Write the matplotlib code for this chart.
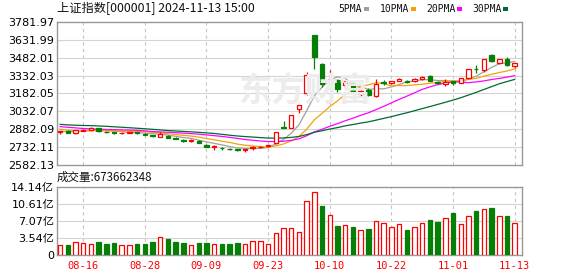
import numpy as np
import pandas as pd
import matplotlib
matplotlib.use("Agg")
import matplotlib.pyplot as plt
from matplotlib.patches import Rectangle

# 上证指数 daily k-line, 2024-08-13 .. 2024-11-13
dates = ["08-13", "08-14", "08-15", "08-16", "08-19", "08-20", "08-21", "08-22", "08-23", "08-26",
         "08-27", "08-28", "08-29", "08-30", "09-02", "09-03", "09-04", "09-05", "09-06", "09-09",
         "09-10", "09-11", "09-12", "09-13", "09-18", "09-19", "09-20", "09-23", "09-24", "09-25",
         "09-26", "09-27", "09-30", "10-08", "10-09", "10-10", "10-11", "10-14", "10-15", "10-16",
         "10-17", "10-18", "10-21", "10-22", "10-23", "10-24", "10-25", "10-28", "10-29", "10-30",
         "10-31", "11-01", "11-04", "11-05", "11-06", "11-07", "11-08", "11-11", "11-12", "11-13"]

opens = [2858, 2866, 2848, 2868, 2879, 2893, 2862, 2858, 2848, 2850,
         2855, 2845, 2837, 2820, 2822, 2806, 2790, 2783, 2781, 2752,
         2733, 2727, 2720, 2713, 2710, 2726, 2734, 2739, 2770.75, 2901.42,
         2893.17, 3049.01, 3190, 3674.40, 3433.17, 3280, 3299.40, 3250, 3265, 3180,
         3208, 3162, 3275, 3268, 3290, 3286, 3290, 3300, 3325, 3278,
         3262, 3283, 3272, 3312, 3388, 3380, 3505, 3437, 3475, 3414]
highs = [2869, 2872, 2879, 2888, 2900, 2895, 2867, 2860, 2860, 2862,
         2858, 2847, 2838, 2857, 2830, 2813, 2800, 2797, 2790, 2755,
         2746, 2735, 2728, 2720, 2720, 2744, 2740, 2753, 2863.13, 2952.45,
         3000.95, 3087.53, 3358.59, 3674.40, 3440, 3382, 3306, 3290, 3282, 3220,
         3226, 3300, 3299, 3290, 3311, 3295, 3311, 3325, 3336, 3286,
         3301, 3290, 3310, 3390, 3425, 3474, 3509.7, 3475, 3490, 3440]
lows = [2846, 2849, 2840, 2866, 2873, 2863, 2848, 2844, 2843, 2849,
        2842, 2831, 2817, 2815, 2807, 2797, 2775, 2776, 2765, 2733,
        2712, 2711, 2711, 2699, 2689.70, 2705, 2726, 2734, 2759.08, 2889.05,
        2889.67, 3017.05, 3166, 3385, 3237.29, 3230, 3194, 3230, 3195, 3153,
        3165, 3152, 3255, 3262, 3284, 3273, 3280, 3295, 3284, 3262,
        3249, 3250, 3266, 3305, 3357, 3366, 3446, 3428, 3416, 3400]
closes = [2867.95, 2850.65, 2877.36, 2879.43, 2893.67, 2866.66, 2856.58, 2848.77, 2854.37, 2855.52,
          2848.32, 2837.43, 2823.11, 2842.21, 2811.04, 2802.98, 2784.28, 2788.31, 2765.81, 2736.49,
          2744.19, 2721.80, 2717.12, 2704.09, 2717.28, 2736.02, 2736.81, 2748.92, 2863.13, 2896.31,
          3000.95, 3087.53, 3336.50, 3489.78, 3258.86, 3301.93, 3217.74, 3284.32, 3201.29, 3202.95,
          3169.38, 3261.56, 3268.11, 3285.87, 3302.80, 3280.26, 3299.70, 3322.20, 3286.41, 3266.24,
          3279.82, 3272.01, 3310.21, 3386.99, 3383.81, 3470.66, 3452.30, 3470.07, 3421.97, 3439.28]

# closes before the window, needed for the moving averages
prior_closes = [2994.73, 2997.01, 2982.38, 2957.57, 2949.93, 2922.45, 2959.37, 2939.36, 2970.39, 2971.30,
                2974.01, 2976.30, 2962.77, 2977.13, 2982.31, 2964.22, 2915.37, 2901.95, 2886.43, 2890.90,
                2891.85, 2879.30, 2938.75, 2932.39, 2905.34, 2860.70, 2867.28, 2869.90, 2870.22, 2862.19,
                2858.20]

# volume, 亿
volumes = [2.15, 2.00, 2.63, 2.56, 2.36, 2.63, 2.22, 2.43, 2.15, 2.15,
           2.22, 2.22, 2.63, 3.74, 3.26, 2.63, 2.43, 2.15, 2.43, 2.43,
           2.36, 2.22, 2.22, 2.43, 2.36, 2.98, 2.84, 2.36, 4.64, 5.68,
           5.68, 4.85, 11.16, 13.17, 10.12, 8.39, 5.96, 6.31, 5.75, 5.13,
           5.34, 7.00, 6.72, 5.75, 6.51, 5.20, 5.89, 6.72, 7.21, 6.79,
           7.76, 8.66, 6.51, 8.18, 9.08, 9.63, 9.70, 8.18, 8.18, 6.74]

price_ticks = [2582.13, 2732.11, 2882.09, 3032.07, 3182.05, 3332.03, 3482.01, 3631.99, 3781.97]
vol_ticks = [0, 3.535, 7.07, 10.605, 14.14]
vol_tick_labels = ["0", "3.54亿", "7.07亿", "10.61亿", "14.14亿"]
date_ticks = ["08-16", "08-28", "09-09", "09-23", "10-10", "10-22", "11-01", "11-13"]

ma_periods = [5, 10, 20, 30]
ma_colors = ["#a0a0a0", "#f5a300", "#ff00ff", "#006a32"]

RED = "#ff0000"
GREEN = "#067f06"
W, H = 578, 276

n = len(closes)
x = np.arange(n)
o = np.array(opens); h = np.array(highs); l = np.array(lows); c = np.array(closes)

all_close = pd.Series(prior_closes + closes)
np_prior = len(prior_closes)

fig = plt.figure(figsize=(W / 100, H / 100), dpi=100)

def box(l_px, t_px, r_px, b_px):
    return [l_px / W, 1 - b_px / H, (r_px - l_px) / W, (b_px - t_px) / H]

ax = fig.add_axes(box(57, 22, 522, 165))
axv = fig.add_axes(box(57, 187, 522, 255))

tick_idx = [dates.index(d) for d in date_ticks]

for a in (ax, axv):
    a.set_xlim(-0.4, n - 0.05)
    for s in a.spines.values():
        s.set_color("#999999")
        s.set_linewidth(1.0)
    a.tick_params(length=0, pad=2)
    for i in tick_idx:
        a.axvline(i, color="#c4c4c4", lw=0.8, ls=(0, (3, 3)), zorder=1)

# price panel
ax.set_ylim(price_ticks[0], price_ticks[-1])
ax.set_yticks(price_ticks)
ax.set_yticklabels(["%.2f" % v for v in price_ticks], fontsize=8, family="DejaVu Sans")
ax.set_xticks([])
for v in price_ticks[1:-1]:
    ax.axhline(v, color="#d4d4d4", lw=0.8, zorder=1)

# watermark
fig.text(305 / W, 1 - 92 / H, "东方财富", ha="center", va="center", fontsize=24,
         family=["Noto Sans CJK SC", "DejaVu Sans"], weight="bold", color="#ececec", zorder=0)

for p, col in zip(ma_periods, ma_colors):
    ma = all_close.rolling(p).mean().values[np_prior:]
    ax.plot(x, ma, color=col, lw=0.9, zorder=2)

bw = 0.58
up = c >= o
ax.vlines(x, l, h, colors=np.where(up, RED, GREEN), lw=0.9, zorder=3)
body_lo = np.minimum(o, c)
body_h = np.maximum(np.abs(c - o), 2.0)
ax.bar(x[up], body_h[up], bottom=body_lo[up], width=bw, facecolor="white",
       edgecolor=RED, lw=0.9, zorder=4)
ax.bar(x[~up], body_h[~up], bottom=body_lo[~up], width=bw, facecolor=GREEN,
       edgecolor=GREEN, lw=0.9, zorder=4)

# volume panel, coloured by close vs previous close
prev = np.array([prior_closes[-1]] + closes[:-1])
vup = c >= prev
vol = np.array(volumes)
axv.set_ylim(0, vol_ticks[-1])
axv.set_yticks(vol_ticks)
axv.set_yticklabels(vol_tick_labels, fontsize=8, family=["DejaVu Sans", "Noto Sans CJK SC"])
for v in vol_ticks[1:-1]:
    axv.axhline(v, color="#d4d4d4", lw=0.8, zorder=1)
axv.bar(x[vup], vol[vup], width=bw, facecolor="white", edgecolor=RED, lw=0.9, zorder=3)
axv.bar(x[~vup], vol[~vup], width=bw, facecolor=GREEN, edgecolor=GREEN, lw=0.9, zorder=3)
axv.set_xticks(tick_idx)
axv.set_xticklabels(date_ticks, fontsize=7.5, color=RED, family="DejaVu Sans Mono")
axv.tick_params(axis="x", pad=4)

# header texts
cjk = ["Noto Sans CJK SC", "DejaVu Sans"]
fig.text(57 / W, 1 - 9 / H, "上证指数[000001] 2024-11-13 15:00", fontsize=8.8, family=cjk,
         va="center", ha="left", color="#111111")
fig.text(57 / W, 1 - 177 / H, "成交量:673662348", fontsize=8.3, family=cjk,
         va="center", ha="left", color="#111111")

legend_x = [338, 380, 426, 472]
for lx, p, col in zip(legend_x, ma_periods, ma_colors):
    t = fig.text(lx / W, 1 - 9 / H, "%dPMA" % p, fontsize=7, family="DejaVu Sans Mono",
                 va="center", ha="left", color="#111111")
    fig.canvas.draw()
    bb = t.get_window_extent()
    fig.patches.append(Rectangle(((bb.x1 + 2) / W, (H - 11) / H), 5 / W, 4 / H,
                                 transform=fig.transFigure, facecolor=col, edgecolor="none"))

fig.savefig("out.png", dpi=100, facecolor="white")
